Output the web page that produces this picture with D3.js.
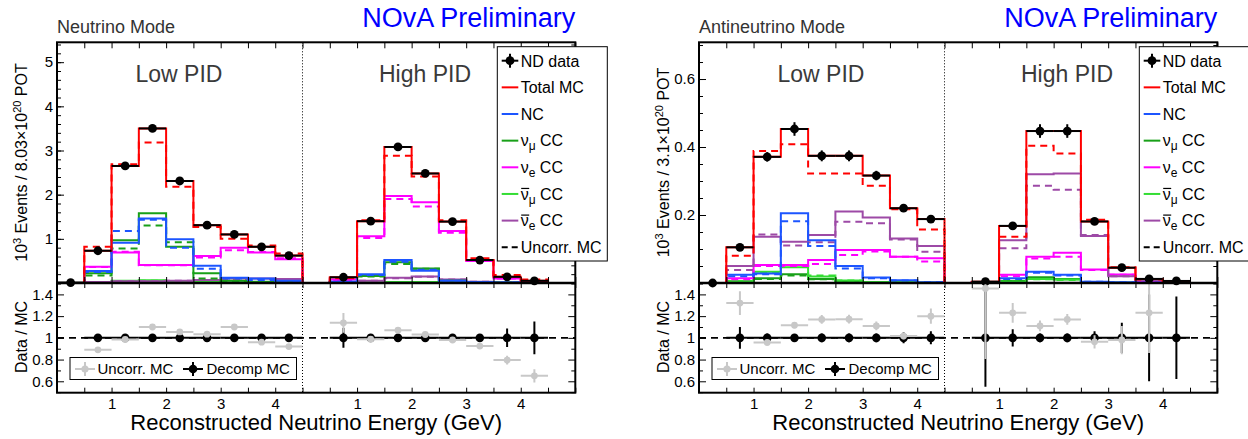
<!DOCTYPE html>
<html>
<head>
<meta charset="utf-8">
<script src="https://cdn.jsdelivr.net/npm/d3@7"></script>
<style>
body { margin: 0; background: #fff; }
svg { font-family: "Liberation Sans", Arial, sans-serif; }
</style>
</head>
<body>
<svg id="chart" width="1248" height="439"></svg>
<script>
// 19 bins per panel: Low PID 0-4.5 GeV (9 bins) then High PID 0-5 GeV (10 bins), 0.5 GeV each
var xTickValues = [1, 2, 3, 4, 5.5, 6.5, 7.5, 8.5];   // combined axis; high PID is shifted by 4.5
var xTickLabels = ['1', '2', '3', '4', '1', '2', '3', '4'];

// ---- Neutrino mode (10^3 events / 8.03e20 POT)
var nuData        = [0.01, 0.73, 2.65, 3.50, 2.31, 1.31, 1.10, 0.82, 0.62, null, 0.13, 1.40, 3.08, 2.48, 1.39, 0.52, 0.14, 0.05, null];
var nuDataErr     = [0.01, 0.03, 0.05, 0.06, 0.05, 0.04, 0.03, 0.03, 0.03, null, 0.02, 0.04, 0.06, 0.05, 0.04, 0.02, 0.01, 0.01, null];
var nuTotal       = [0, 0.73, 2.65, 3.50, 2.31, 1.31, 1.10, 0.82, 0.62, 0, 0.13, 1.40, 3.08, 2.48, 1.39, 0.52, 0.14, 0.05, 0];
var nuTotalUncorr = [0, 0.82, 2.69, 3.18, 2.18, 1.27, 1.00, 0.85, 0.67, 0, 0.11, 1.42, 2.88, 2.41, 1.42, 0.56, 0.18, 0.08, 0];
var nuNC          = [0, 0.27, 0.91, 1.46, 0.99, 0.39, 0.12, 0.10, 0.05, 0, 0.03, 0.20, 0.52, 0.28, 0.05, 0.02, 0.01, 0.005, 0];
var nuNCUncorr    = [0, 0.25, 1.18, 1.43, 0.80, 0.32, 0.10, 0.07, 0.04, 0, 0.03, 0.18, 0.48, 0.30, 0.05, 0.02, 0.01, 0.005, 0];
var nuNumu        = [0, 0.22, 0.97, 1.58, 0.82, 0.22, 0.05, 0.03, 0.02, 0, 0.02, 0.16, 0.47, 0.33, 0.05, 0.02, 0.01, 0, 0];
var nuNumuUncorr  = [0, 0.17, 0.78, 1.30, 0.92, 0.10, 0.04, 0.02, 0.01, 0, 0.02, 0.15, 0.43, 0.32, 0.05, 0.02, 0.01, 0, 0];
var nuNue         = [0, 0.37, 0.69, 0.41, 0.41, 0.61, 0.80, 0.69, 0.54, 0, 0.08, 1.06, 1.97, 1.83, 1.18, 0.50, 0.10, 0.03, 0];
var nuNueUncorr   = [0, 0.36, 0.71, 0.40, 0.40, 0.58, 0.74, 0.70, 0.56, 0, 0.07, 1.02, 1.90, 1.73, 1.14, 0.50, 0.10, 0.03, 0];
var nuAnumu       = [0, 0.02, 0.05, 0.06, 0.04, 0.02, 0.01, 0.01, 0.005, 0, 0.005, 0.01, 0.02, 0.02, 0.01, 0.005, 0, 0, 0];
var nuAnumuUncorr = [0, 0.02, 0.04, 0.05, 0.04, 0.02, 0.01, 0.01, 0.005, 0, 0.005, 0.01, 0.02, 0.02, 0.01, 0.005, 0, 0, 0];
var nuAnue        = [0, 0.02, 0.04, 0.04, 0.05, 0.07, 0.10, 0.10, 0.09, 0, 0.01, 0.05, 0.12, 0.15, 0.08, 0.03, 0.01, 0.005, 0];
var nuAnueUncorr  = [0, 0.02, 0.04, 0.04, 0.05, 0.07, 0.09, 0.09, 0.08, 0, 0.01, 0.05, 0.11, 0.14, 0.08, 0.03, 0.01, 0.005, 0];
var nuRatioUncorr    = [null, 0.89, 0.985, 1.10, 1.055, 1.034, 1.10, 0.96, 0.92, null, 1.138, 0.988, 1.071, 1.031, 0.98, 0.924, 0.795, 0.65, null];
var nuRatioUncorrErr = [null, 0.01, 0.01, 0.01, 0.01, 0.01, 0.01, 0.01, 0.01, null, 0.09, 0.015, 0.01, 0.01, 0.01, 0.015, 0.04, 0.06, null];
var nuRatioDecomp    = [null, 1, 1, 1, 1, 1, 1, 1, 1, null, 1, 1, 1, 1, 1, 1, 1, 1, null];
var nuRatioDecompErr = [null, 0.01, 0.01, 0.01, 0.01, 0.01, 0.01, 0.01, 0.01, null, 0.09, 0.015, 0.01, 0.01, 0.015, 0.02, 0.085, 0.15, null];

// ---- Antineutrino mode (10^3 events / 3.1e20 POT)
var anData        = [0.0, 0.105, 0.371, 0.453, 0.374, 0.374, 0.316, 0.220, 0.188, null, 0.004, 0.168, 0.447, 0.447, 0.181, 0.045, 0.012, 0.006, null];
var anDataErr     = [0.002, 0.008, 0.014, 0.02, 0.016, 0.016, 0.014, 0.01, 0.01, null, 0.002, 0.01, 0.02, 0.02, 0.01, 0.005, 0.003, 0.002, null];
var anTotal       = [0, 0.105, 0.371, 0.453, 0.374, 0.374, 0.316, 0.220, 0.188, 0, 0.004, 0.168, 0.447, 0.447, 0.181, 0.045, 0.012, 0.006, 0];
var anTotalUncorr = [0, 0.080, 0.388, 0.408, 0.322, 0.322, 0.286, 0.217, 0.157, 0, 0.003, 0.136, 0.404, 0.381, 0.186, 0.046, 0.010, 0.006, 0];
var anNC          = [0, 0.024, 0.028, 0.205, 0.126, 0.050, 0.016, 0.008, 0.002, 0, 0.001, 0.014, 0.033, 0.024, 0.004, 0.002, 0.001, 0, 0];
var anNCUncorr    = [0, 0.020, 0.026, 0.182, 0.109, 0.043, 0.014, 0.007, 0.002, 0, 0.001, 0.012, 0.030, 0.022, 0.004, 0.002, 0.001, 0, 0];
var anNumu        = [0, 0.004, 0.014, 0.026, 0.012, 0.004, 0.002, 0.001, 0, 0, 0, 0.006, 0.017, 0.012, 0.002, 0, 0, 0, 0];
var anNumuUncorr  = [0, 0.004, 0.012, 0.022, 0.011, 0.004, 0.002, 0.001, 0, 0, 0, 0.005, 0.015, 0.011, 0.002, 0, 0, 0, 0];
var anNue         = [0, 0.014, 0.053, 0.053, 0.068, 0.097, 0.097, 0.077, 0.073, 0, 0.002, 0.024, 0.077, 0.089, 0.040, 0.025, 0.004, 0.002, 0];
var anNueUncorr   = [0, 0.011, 0.050, 0.050, 0.056, 0.082, 0.093, 0.077, 0.063, 0, 0.002, 0.020, 0.072, 0.077, 0.038, 0.024, 0.004, 0.002, 0];
var anAnumu       = [0, 0.006, 0.033, 0.046, 0.019, 0.007, 0.003, 0.002, 0.001, 0, 0, 0.004, 0.012, 0.010, 0.002, 0.001, 0, 0, 0];
var anAnumuUncorr = [0, 0.006, 0.032, 0.050, 0.022, 0.007, 0.003, 0.002, 0.001, 0, 0, 0.004, 0.011, 0.009, 0.002, 0.001, 0, 0, 0];
var anAnue        = [0, 0.050, 0.136, 0.121, 0.141, 0.210, 0.193, 0.131, 0.109, 0, 0.002, 0.126, 0.320, 0.322, 0.138, 0.020, 0.008, 0.004, 0];
var anAnueUncorr  = [0, 0.038, 0.143, 0.110, 0.120, 0.180, 0.176, 0.128, 0.092, 0, 0.002, 0.102, 0.286, 0.274, 0.141, 0.020, 0.008, 0.004, 0];
var anRatioUncorr    = [null, 1.32, 0.958, 1.117, 1.17, 1.172, 1.11, 1.016, 1.2, null, 1.455, 1.23, 1.11, 1.17, 0.963, 0.98, 1.23, null, null];
var anRatioUncorrErr = [null, 0.11, 0.03, 0.03, 0.04, 0.04, 0.04, 0.03, 0.07, null, 0.65, 0.09, 0.05, 0.05, 0.06, 0.13, 0.37, null, null];
var anRatioDecomp    = [null, 1, 1, 1, 1, 1, 1, 1, 1, null, 1, 1, 1, 1, 1, 1, 1, 1, null];
var anRatioDecompErr = [null, 0.1, 0.04, 0.03, 0.04, 0.04, 0.04, 0.05, 0.06, null, 0.45, 0.08, 0.04, 0.04, 0.06, 0.14, 0.40, 0.38, null];

var colors = { total: '#ff0000', nc: '#1c55ff', numu: '#18a018', nue: '#ff00ff', anumu: '#33dd33', anue: '#9d4aa6', grey: '#c8c8c8' };

var svg = d3.select('#chart');
var TOP = 42.3, MID = 283, BOT = 392.7, PW = 518.3;

function drawPanel(p, idx) {
	var x0 = p.left, x1 = p.left + PW;
	var x = d3.scaleLinear().domain([0, 9.5]).range([x0, x1]);
	var y = d3.scaleLinear().domain([0, p.yMax]).range([MID, TOP]);
	var yr = d3.scaleLinear().domain([0.495, 1.505]).range([BOT, MID]);
	var g = svg.append('g');

	var defs = g.append('defs');
	defs.append('clipPath').attr('id', 'clipTop' + idx).append('rect')
		.attr('x', x0).attr('y', TOP).attr('width', PW).attr('height', MID - TOP);
	defs.append('clipPath').attr('id', 'clipRat' + idx).append('rect')
		.attr('x', x0).attr('y', MID).attr('width', PW).attr('height', BOT - MID);

	// titles
	g.append('text').attr('x', x0).attr('y', 33).attr('font-size', 18).attr('fill', '#333').text(p.mode);
	g.append('text').attr('x', x1).attr('y', 26.5).attr('font-size', 27).attr('fill', '#0000ff')
		.attr('text-anchor', 'end').text('NOvA Preliminary');
	g.append('text').attr('x', x0 + 122).attr('y', 81.7).attr('font-size', 23).attr('fill', '#3a3a3a')
		.attr('text-anchor', 'middle').text('Low PID');
	g.append('text').attr('x', x0 + 368).attr('y', 81.7).attr('font-size', 23).attr('fill', '#3a3a3a')
		.attr('text-anchor', 'middle').text('High PID');

	// histograms
	var line = d3.line().x(function (d) { return x(d[0]); }).y(function (d) { return y(d[1]); });
	function steps(vals) {
		var pts = [[0, 0]];
		vals.forEach(function (v, i) { pts.push([i * 0.5, v || 0], [(i + 1) * 0.5, v || 0]); });
		pts.push([vals.length * 0.5, 0]);
		return pts;
	}
	var hg = g.append('g').attr('clip-path', 'url(#clipTop' + idx + ')');
	p.comps.forEach(function (c) {
		hg.append('path').attr('d', line(steps(c.uncorr))).attr('fill', 'none')
			.attr('stroke', c.color).attr('stroke-width', 2).attr('stroke-dasharray', '7,5');
		hg.append('path').attr('d', line(steps(c.vals))).attr('fill', 'none')
			.attr('stroke', c.color).attr('stroke-width', 2);
	});

	// dotted separator
	[[TOP, MID], [MID, BOT]].forEach(function (r) {
		g.append('line').attr('x1', x(4.5)).attr('x2', x(4.5)).attr('y1', r[0]).attr('y2', r[1])
			.attr('stroke', '#000').attr('stroke-width', 1).attr('stroke-dasharray', '1,2');
	});

	// data points
	var pts = p.data.map(function (v, i) { return { i: i, v: v, e: p.dataErr[i] }; })
		.filter(function (d) { return d.v !== null; });
	var dg = g.append('g');
	dg.selectAll('line.h').data(pts).enter().append('line')
		.attr('x1', function (d) { return x(d.i * 0.5); }).attr('x2', function (d) { return x(d.i * 0.5 + 0.5); })
		.attr('y1', function (d) { return y(d.v); }).attr('y2', function (d) { return y(d.v); })
		.attr('stroke', '#000').attr('stroke-width', 2);
	dg.selectAll('line.v').data(pts).enter().append('line')
		.attr('x1', function (d) { return x(d.i * 0.5 + 0.25); }).attr('x2', function (d) { return x(d.i * 0.5 + 0.25); })
		.attr('y1', function (d) { return y(d.v - d.e); }).attr('y2', function (d) { return y(d.v + d.e); })
		.attr('stroke', '#000').attr('stroke-width', 2);
	dg.selectAll('circle').data(pts).enter().append('circle')
		.attr('cx', function (d) { return x(d.i * 0.5 + 0.25); }).attr('cy', function (d) { return y(d.v); })
		.attr('r', 4.4).attr('fill', '#000');

	// ratio panel
	var rg = g.append('g').attr('clip-path', 'url(#clipRat' + idx + ')');
	rg.append('line').attr('x1', x0).attr('x2', x1).attr('y1', yr(1)).attr('y2', yr(1))
		.attr('stroke', '#000').attr('stroke-width', 1.6).attr('stroke-dasharray', '7,5');
	function ratioSeries(vals, errs, color, r) {
		var d = vals.map(function (v, i) { return { i: i, v: v, e: errs[i] }; })
			.filter(function (d) { return d.v !== null; });
		var s = rg.append('g');
		s.selectAll('line.h').data(d).enter().append('line')
			.attr('x1', function (d) { return x(d.i * 0.5); }).attr('x2', function (d) { return x(d.i * 0.5 + 0.5); })
			.attr('y1', function (d) { return yr(d.v); }).attr('y2', function (d) { return yr(d.v); })
			.attr('stroke', color).attr('stroke-width', 2);
		s.selectAll('line.v').data(d).enter().append('line')
			.attr('x1', function (d) { return x(d.i * 0.5 + 0.25); }).attr('x2', function (d) { return x(d.i * 0.5 + 0.25); })
			.attr('y1', function (d) { return yr(d.v - d.e); }).attr('y2', function (d) { return yr(d.v + d.e); })
			.attr('stroke', color).attr('stroke-width', 2);
		s.selectAll('circle').data(d).enter().append('circle')
			.attr('cx', function (d) { return x(d.i * 0.5 + 0.25); }).attr('cy', function (d) { return yr(d.v); })
			.attr('r', r).attr('fill', color);
	}
	ratioSeries(p.ratioDecomp, p.ratioDecompErr, '#000', 4.3);
	ratioSeries(p.ratioUncorr, p.ratioUncorrErr, colors.grey, 3.4);

	// axes
	var edges = d3.range(0, 9.51, 0.5);
	function noDomain(sel) { sel.select('.domain').remove(); sel.selectAll('line').attr('stroke', '#000').attr('stroke-width', 1); }
	function xAxis(ax, yy, size) {
		g.append('g').attr('transform', 'translate(0,' + yy + ')')
			.call(ax(x).tickValues(edges).tickSize(size).tickFormat('')).call(noDomain);
	}
	xAxis(d3.axisTop, TOP, -6);
	xAxis(d3.axisBottom, MID, -6);
	xAxis(d3.axisTop, MID, -5);
	xAxis(d3.axisBottom, BOT, -5);
	g.append('g').attr('transform', 'translate(0,' + BOT + ')')
		.call(d3.axisBottom(x).tickValues(xTickValues).tickSize(0).tickPadding(6)
			.tickFormat(function (d, i) { return xTickLabels[i]; }))
		.call(noDomain)
		.selectAll('text').attr('font-size', 15).attr('font-family', null).attr('fill', '#000');

	function yAxes(scale, major, minor, fmt) {
		g.append('g').attr('transform', 'translate(' + x0 + ',0)')
			.call(d3.axisLeft(scale).tickValues(major).tickSize(-7).tickPadding(4).tickFormat(fmt))
			.call(noDomain)
			.selectAll('text').attr('font-size', 15).attr('font-family', null).attr('fill', '#000');
		g.append('g').attr('transform', 'translate(' + x0 + ',0)')
			.call(d3.axisLeft(scale).tickValues(minor).tickSize(-4).tickFormat('')).call(noDomain);
		g.append('g').attr('transform', 'translate(' + x1 + ',0)')
			.call(d3.axisRight(scale).tickValues(major).tickSize(-7).tickFormat('')).call(noDomain);
		g.append('g').attr('transform', 'translate(' + x1 + ',0)')
			.call(d3.axisRight(scale).tickValues(minor).tickSize(-4).tickFormat('')).call(noDomain);
	}
	yAxes(y, p.yMajor, p.yMinor, p.yFmt);
	yAxes(yr, [0.6, 0.8, 1, 1.2, 1.4], [0.5, 0.7, 0.9, 1.1, 1.3, 1.5], d3.format('~g'));

	// frames
	g.append('rect').attr('x', x0).attr('y', TOP).attr('width', PW).attr('height', BOT - TOP)
		.attr('fill', 'none').attr('stroke', '#000').attr('stroke-width', 2);
	g.append('line').attr('x1', x0).attr('x2', x1).attr('y1', MID).attr('y2', MID)
		.attr('stroke', '#000').attr('stroke-width', 2.4);

	// axis titles
	var yt = g.append('text').attr('transform', 'translate(' + (x0 - 30) + ',162.5) rotate(-90)')
		.attr('text-anchor', 'middle').attr('font-size', 16).attr('fill', '#000');
	yt.append('tspan').text('10');
	yt.append('tspan').attr('dy', -6).attr('font-size', 11).text('3');
	yt.append('tspan').attr('dy', 6).text(' Events / ' + p.pot + '\u00d710');
	yt.append('tspan').attr('dy', -6).attr('font-size', 11).text('20');
	yt.append('tspan').attr('dy', 6).text(' POT');
	g.append('text').attr('transform', 'translate(' + (x0 - 30) + ',337) rotate(-90)')
		.attr('text-anchor', 'middle').attr('font-size', 16).attr('fill', '#000').text('Data / MC');
	g.append('text').attr('x', (x0 + x1) / 2).attr('y', 430).attr('text-anchor', 'middle')
		.attr('font-size', 22).attr('fill', '#000').text('Reconstructed Neutrino Energy (GeV)');

	// main legend
	var lx = x1 - 78, ly = 46.7;
	g.append('rect').attr('x', lx).attr('y', ly).attr('width', 110).attr('height', 214.3)
		.attr('fill', '#fff').attr('stroke', '#000').attr('stroke-width', 1);
	var items = [
		{ type: 'data', text: ['ND data'] },
		{ color: colors.total, text: ['Total MC'] },
		{ color: colors.nc, text: ['NC'] },
		{ color: colors.numu, text: ['\u03bd', '\u03bc', ' CC'] },
		{ color: colors.nue, text: ['\u03bd', 'e', ' CC'] },
		{ color: colors.anumu, text: ['\u03bd', '\u03bc', ' CC'], bar: true },
		{ color: colors.anue, text: ['\u03bd', 'e', ' CC'], bar: true },
		{ color: '#000', text: ['Uncorr. MC'], dashed: true }
	];
	items.forEach(function (it, k) {
		var cy = ly + 14 + k * 26.65, sx = lx + 4.4, ex = lx + 21;
		if (it.type === 'data') {
			g.append('line').attr('x1', sx).attr('x2', ex).attr('y1', cy).attr('y2', cy).attr('stroke', '#000').attr('stroke-width', 2);
			g.append('line').attr('x1', (sx + ex) / 2).attr('x2', (sx + ex) / 2).attr('y1', cy - 7).attr('y2', cy + 7).attr('stroke', '#000').attr('stroke-width', 2);
			g.append('circle').attr('cx', (sx + ex) / 2).attr('cy', cy).attr('r', 4.4).attr('fill', '#000');
		} else {
			g.append('line').attr('x1', sx).attr('x2', ex).attr('y1', cy).attr('y2', cy)
				.attr('stroke', it.color).attr('stroke-width', 2).attr('stroke-dasharray', it.dashed ? '6,4' : null);
		}
		var tx = lx + 23.4, t = g.append('text').attr('x', tx).attr('y', cy + 5.8).attr('font-size', 16).attr('fill', '#000');
		if (it.text.length === 1) {
			t.text(it.text[0]);
		} else {
			t.append('tspan').text(it.text[0]);
			t.append('tspan').attr('dy', 4).attr('font-size', 12).text(it.text[1]);
			t.append('tspan').attr('dy', -4).text(it.text[2]);
			if (it.bar) {
				g.append('line').attr('x1', tx + 0.5).attr('x2', tx + 8.5).attr('y1', cy - 5.5).attr('y2', cy - 5.5)
					.attr('stroke', '#000').attr('stroke-width', 1.2);
			}
		}
	});

	// ratio legend
	var rx = x0 + 13, ry = 357.5, rcy = 369;
	g.append('rect').attr('x', rx).attr('y', ry).attr('width', 226.5).attr('height', 22)
		.attr('fill', '#fff').attr('stroke', '#000').attr('stroke-width', 1);
	[{ c: colors.grey, cx: x0 + 28, tx: x0 + 40.5, r: 3.6, label: 'Uncorr. MC' },
	 { c: '#000', cx: x0 + 136, tx: x0 + 149.5, r: 4.3, label: 'Decomp MC' }].forEach(function (s) {
		g.append('line').attr('x1', s.cx - 10).attr('x2', s.cx + 10).attr('y1', rcy).attr('y2', rcy).attr('stroke', s.c).attr('stroke-width', 2);
		g.append('line').attr('x1', s.cx).attr('x2', s.cx).attr('y1', rcy - 7).attr('y2', rcy + 7).attr('stroke', s.c).attr('stroke-width', 2);
		g.append('circle').attr('cx', s.cx).attr('cy', rcy).attr('r', s.r).attr('fill', s.c);
		g.append('text').attr('x', s.tx).attr('y', rcy + 5.3).attr('font-size', 15).attr('fill', '#000').text(s.label);
	});
}

var panels = [
	{
		left: 57, mode: 'Neutrino Mode', pot: '8.03', yMax: 5.45,
		yMajor: [1, 2, 3, 4, 5], yMinor: d3.range(0.2, 5.41, 0.2), yFmt: d3.format('d'),
		data: nuData, dataErr: nuDataErr,
		comps: [
			{ color: colors.anumu, vals: nuAnumu, uncorr: nuAnumuUncorr },
			{ color: colors.anue, vals: nuAnue, uncorr: nuAnueUncorr },
			{ color: colors.numu, vals: nuNumu, uncorr: nuNumuUncorr },
			{ color: colors.nue, vals: nuNue, uncorr: nuNueUncorr },
			{ color: colors.nc, vals: nuNC, uncorr: nuNCUncorr },
			{ color: colors.total, vals: nuTotal, uncorr: nuTotalUncorr }
		],
		ratioUncorr: nuRatioUncorr, ratioUncorrErr: nuRatioUncorrErr,
		ratioDecomp: nuRatioDecomp, ratioDecompErr: nuRatioDecompErr
	},
	{
		left: 699, mode: 'Antineutrino Mode', pot: '3.1', yMax: 0.708,
		yMajor: [0.2, 0.4, 0.6], yMinor: d3.range(0.05, 0.701, 0.05), yFmt: d3.format('.1f'),
		data: anData, dataErr: anDataErr,
		comps: [
			{ color: colors.numu, vals: anNumu, uncorr: anNumuUncorr },
			{ color: colors.anumu, vals: anAnumu, uncorr: anAnumuUncorr },
			{ color: colors.nue, vals: anNue, uncorr: anNueUncorr },
			{ color: colors.anue, vals: anAnue, uncorr: anAnueUncorr },
			{ color: colors.nc, vals: anNC, uncorr: anNCUncorr },
			{ color: colors.total, vals: anTotal, uncorr: anTotalUncorr }
		],
		ratioUncorr: anRatioUncorr, ratioUncorrErr: anRatioUncorrErr,
		ratioDecomp: anRatioDecomp, ratioDecompErr: anRatioDecompErr
	}
];

panels.forEach(drawPanel);
</script>
</body>
</html>
